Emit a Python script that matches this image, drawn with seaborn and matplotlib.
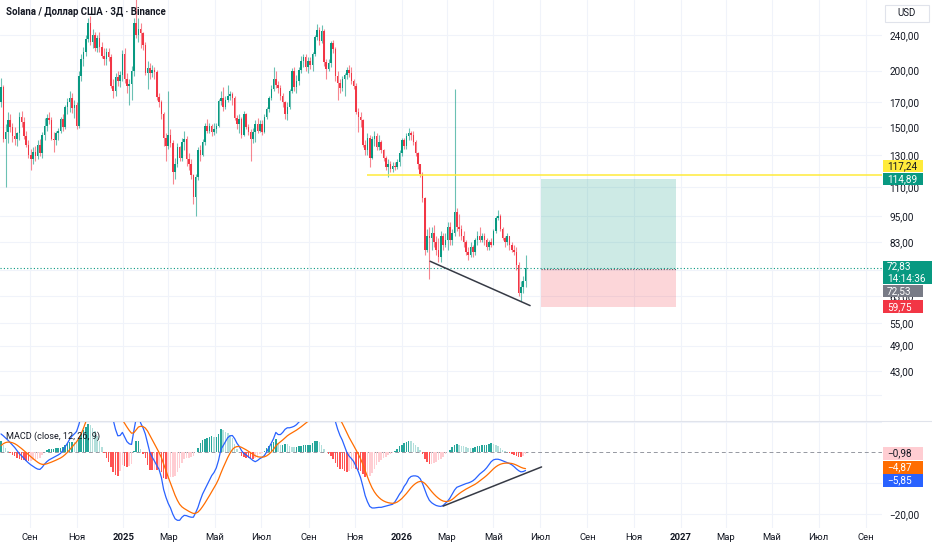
import numpy as np
import pandas as pd
import matplotlib
matplotlib.use("Agg")
import matplotlib.pyplot as plt
import seaborn as sns
from matplotlib.patches import Rectangle
from matplotlib.lines import Line2D
from matplotlib.ticker import NullLocator

# ---------------- data (3-day candles, SOL/USD) ----------------
START_DATE = "2024-07-25"
CANDLE_DAYS = 3
FIRST_OPEN = 170.0
CLOSE = [
    184, 141, 146, 155, 150, 143, 141, 145, 158, 154,
    143, 137, 130, 127, 132, 129, 137, 131, 144, 151,
    157, 155, 141, 140, 145, 147, 156, 150, 166, 170,
    174, 165, 168, 151, 195, 212, 220, 235, 255, 232,
    240, 225, 236, 226, 216, 212, 220, 214, 185, 180,
    194, 190, 196, 218, 192, 185, 187, 200, 255, 240,
    247, 242, 228, 198, 203, 198, 201, 199, 175, 170,
    160, 142, 136, 144, 138, 119, 124, 135, 128, 139,
    141, 127, 124, 117, 105, 116, 133, 130, 139, 151,
    147, 151, 146, 148, 151, 171, 174, 166, 172, 176,
    177, 174, 157, 152, 156, 144, 160, 150, 146, 141,
    146, 152, 147, 152, 146, 158, 164, 174, 182, 192,
    186, 183, 176, 170, 160, 166, 180, 200, 184, 190,
    201, 210, 214, 204, 210, 206, 218, 238, 246, 233,
    245, 209, 202, 208, 230, 223, 195, 188, 183, 192,
    196, 201, 198, 190, 185, 162, 158, 155, 137, 133,
    142, 128, 141, 143, 135, 139, 133, 128, 122, 124,
    121, 123, 122, 125, 131, 140, 136, 143, 145, 144,
    139, 131, 124, 118, 104, 80, 86, 85, 87, 83,
    80, 77, 86, 82, 84, 90, 84, 87, 97, 90,
    89, 86, 83, 79, 78, 81, 79, 84, 86, 84,
    86, 84, 81, 83, 82, 88, 94, 95, 89, 85,
    83, 86, 82, 80, 79, 74, 64, 66, 68, 72.83,
]
HIGH = [
    193, 186, 152, 162, 160, 153, 150, 146, 162, 163,
    158, 147, 140, 134, 135, 136, 140, 141, 146, 157,
    160, 162, 158, 146, 147, 149, 158, 160, 168, 174,
    180, 178, 172, 170, 200, 218, 226, 240, 262, 264,
    248, 244, 240, 244, 232, 225, 224, 225, 218, 192,
    198, 200, 200, 222, 224, 198, 192, 205, 262, 295,
    262, 255, 244, 232, 210, 208, 206, 204, 201, 178,
    172, 162, 145, 180, 148, 140, 128, 138, 136, 142,
    147, 143, 131, 127, 118, 118, 135, 137, 141, 153,
    156, 153, 152, 153, 153, 173, 180, 184, 176, 186,
    180, 179, 176, 159, 160, 158, 163, 161, 152, 148,
    149, 155, 157, 155, 155, 160, 166, 176, 186, 204,
    200, 190, 186, 178, 171, 170, 182, 203, 204, 196,
    204, 216, 218, 218, 214, 214, 220, 240, 254, 250,
    253, 247, 212, 212, 233, 234, 226, 200, 192, 195,
    198, 204, 206, 204, 192, 188, 165, 162, 156, 140,
    145, 144, 143, 147, 145, 144, 140, 134, 129, 127,
    126, 125, 125, 127, 133, 142, 142, 145, 149, 147,
    147, 140, 132, 124, 119, 105, 89, 90, 90, 91,
    86, 85, 88, 87, 87, 92, 92, 89, 182, 99,
    96, 91, 88, 84, 81, 83, 82, 85, 88, 90,
    87, 87, 85, 84, 85, 89, 95, 98, 96, 90,
    86, 87, 86, 83, 82, 81, 75, 68, 70, 78,
]
LOW = [
    166, 139, 110, 138, 146, 139, 137, 136, 140, 150,
    141, 135, 128, 120, 124, 126, 127, 129, 128, 140,
    147, 152, 140, 132, 137, 140, 145, 147, 148, 160,
    162, 161, 157, 148, 149, 190, 205, 215, 232, 228,
    225, 221, 220, 220, 213, 206, 206, 210, 183, 174,
    176, 185, 184, 190, 188, 178, 168, 172, 195, 236,
    232, 225, 222, 196, 182, 192, 194, 192, 172, 166,
    156, 136, 126, 134, 135, 112, 115, 122, 126, 126,
    133, 123, 120, 115, 101, 95, 114, 126, 129, 137,
    145, 145, 143, 144, 145, 150, 168, 163, 164, 170,
    172, 168, 155, 148, 145, 142, 143, 148, 144, 126,
    138, 139, 145, 146, 144, 145, 156, 162, 172, 180,
    183, 178, 172, 166, 156, 155, 164, 178, 180, 178,
    186, 198, 204, 200, 198, 202, 200, 215, 234, 228,
    230, 205, 192, 200, 204, 219, 190, 172, 178, 180,
    176, 192, 194, 187, 182, 160, 146, 150, 135, 130,
    130, 122, 127, 136, 133, 133, 131, 126, 120, 116,
    119, 119, 120, 121, 123, 129, 134, 134, 140, 140,
    137, 129, 121, 116, 102, 78, 79, 69, 80, 81,
    78, 75, 75, 80, 81, 80, 82, 82, 86, 88,
    86, 84, 81, 78, 76, 77, 77, 78, 82, 83,
    83, 82, 80, 80, 81, 82, 87, 93, 88, 84,
    81, 82, 80, 79, 78, 72, 63, 61.5, 64, 66,
]
MACD = [
    6.0, 5.4, 4.7, 4.0, 3.2, 2.4, 1.6, 0.6, -0.4, -1.1,
    -1.9, -2.7, -3.4, -4.0, -4.5, -5.0, -5.4, -5.5, -4.8, -3.8,
    -3.0, -2.4, -2.0, -1.6, -1.2, -0.8, -0.3, 0.6, 1.8, 3.0,
    4.3, 5.3, 6.0, 6.8, 9.0, 12.0, 15.0, 18.0, 21.5, 23.5,
    24.5, 25.0, 24.8, 24.0, 22.5, 20.5, 18.5, 16.5, 13.5, 10.5,
    7.5, 5.4, 5.5, 6.5, 5.0, 3.5, 2.8, 2.6, 7.0, 11.0,
    12.0, 9.5, 8.0, 6.0, 3.0, 0.0, -1.5, -2.8, -4.2, -5.5,
    -8.0, -12.0, -14.5, -16.5, -18.0, -20.0, -21.5, -22.0, -22.0, -21.0,
    -20.4, -20.5, -20.8, -21.0, -21.0, -19.5, -17.8, -15.5, -13.5, -12.0,
    -10.5, -9.0, -7.5, -6.5, -5.0, -2.5, 1.0, 2.2, 3.5, 4.8,
    5.4, 5.5, 4.5, 3.0, 2.0, 0.6, -0.3, -0.8, -1.4, -2.0,
    -2.6, -3.0, -2.6, -2.0, -1.6, -1.0, 0.2, 1.6, 3.0, 4.5,
    6.5, 5.8, 5.8, 6.5, 7.5, 8.0, 8.0, 8.2, 8.5, 9.0,
    9.8, 10.5, 11.2, 11.8, 12.5, 13.2, 14.5, 16.0, 17.0, 17.5,
    17.0, 16.0, 15.0, 14.5, 13.5, 12.0, 10.0, 7.5, 5.5, 4.0,
    2.0, 0.0, -1.2, -2.0, -3.0, -4.5, -6.2, -8.2, -11.0, -14.0,
    -16.0, -17.5, -18.0, -18.0, -17.9, -17.8, -17.8, -17.6, -17.4, -17.2,
    -17.0, -16.8, -16.0, -14.8, -13.5, -12.5, -11.0, -10.0, -8.5, -7.8,
    -7.6, -7.6, -7.8, -8.5, -10.0, -12.0, -14.0, -15.5, -16.3, -16.8,
    -17.2, -17.4, -17.5, -17.2, -16.5, -15.8, -14.8, -13.5, -12.2, -11.3,
    -11.0, -10.7, -10.4, -10.1, -9.9, -9.6, -9.2, -8.6, -7.8, -7.0,
    -6.4, -5.8, -5.0, -4.0, -3.0, -2.4, -2.2, -2.2, -2.4, -2.7,
    -3.0, -3.3, -3.6, -4.0, -4.6, -5.3, -5.9, -6.3, -6.2, -5.85,
]
SIGNAL_START = 2.2
SIGNAL_LEN = 9

PRICE_TICKS = [240, 200, 170, 150, 130, 110, 95, 83, 72, 63, 55, 49, 43, 38]
PRICE_TICK_LABELS = ["240,00", "200,00", "170,00", "150,00", "130,00", "110,00",
                     "95,00", "83,00", "", "63,00", "55,00", "49,00", "43,00", ""]
MACD_TICKS = [0, -10, -20]
MACD_TICK_LABELS = ["", "", "\u221220,00"]
MONTH_TICKS = ["2024-09-01", "2024-11-01", "2025-01-01", "2025-03-01", "2025-05-01",
               "2025-07-01", "2025-09-01", "2025-11-01", "2026-01-01", "2026-03-01",
               "2026-05-01", "2026-07-01", "2026-09-01", "2026-11-01", "2027-01-01",
               "2027-03-01", "2027-05-01", "2027-07-01", "2027-09-01"]
MONTH_LABELS = ["Сен", "Ноя", "2025", "Мар", "Май", "Июл", "Сен", "Ноя", "2026", "Мар",
                "Май", "Июл", "Сен", "Ноя", "2027", "Мар", "Май", "Июл", "Сен"]

TITLE = "Solana / Доллар США · 3Д · Binance"
MACD_TITLE = "MACD (close, 12, 26, 9)"
RESISTANCE = 117.24
RESISTANCE_START = "2025-11-16"
LAST_PRICE = 72.83
COUNTDOWN = "14:14:36"
POS_ENTRY, POS_TARGET, POS_STOP = 72.53, 114.89, 59.75
POS_DATES = ["2026-07-02", "2026-12-26"]
TREND_DATES = ["2026-02-07", "2026-06-18"]
TREND_PRICES = [75.4, 60.1]
MACD_TREND_DATES = ["2026-02-24", "2026-07-03"]
MACD_TREND_VALUES = [-17.4, -4.7]
HIST_LAST, SIGNAL_LAST, MACD_LAST = -0.98, -4.87, -5.85

# ---------------- style ----------------
UP, DOWN = "#089981", "#F23645"
GRID = "#F0F3FA"
TXT = "#131722"
W, H = 932, 550
REF = pd.Timestamp("2024-09-01")

sns.set_theme(style="white")
plt.rcParams["font.family"] = ["Roboto", "DejaVu Sans"]
plt.rcParams["axes.unicode_minus"] = True


def days(s):
    return (pd.Timestamp(s) - REF) / pd.Timedelta(days=1)


def rect(x0, y0, x1, y1):
    return [x0 / W, 1 - y1 / H, (x1 - x0) / W, (y1 - y0) / H]


fig = plt.figure(figsize=(W / 100, H / 100), dpi=100)
fig.patch.set_facecolor("white")
ax = fig.add_axes(rect(0, 0, 882, 421))
ax2 = fig.add_axes(rect(0, 421, 882, 528), sharex=ax)

n = len(CLOSE)
dates = pd.date_range(START_DATE, periods=n, freq=f"{CANDLE_DAYS}D")
xd = ((dates - REF) / pd.Timedelta(days=1)).to_numpy(dtype=float)
cls = np.array(CLOSE, dtype=float)
opn = np.array([FIRST_OPEN] + CLOSE[:-1], dtype=float)
hi = np.array(HIGH, dtype=float)
lo = np.array(LOW, dtype=float)
col = np.where(cls >= opn, UP, DOWN)

# ---------------- price pane ----------------
ax.set_yscale("log")
ax.set_xlim(-39.3, 1115.9)
ax.set_ylim(33.3, 287.0)
ax.vlines(xd, lo, hi, colors=col, lw=0.8, alpha=0.6, zorder=3)
ax.bar(xd, np.abs(cls - opn), bottom=np.minimum(opn, cls), width=2.0,
       color=col, linewidth=0, zorder=4)

ax.hlines(RESISTANCE, days(RESISTANCE_START), 1115.9, color="#FFEB3B", lw=1.1, zorder=5)
ax.axhline(LAST_PRICE, color=UP, ls=(0, (1, 2)), lw=0.8, zorder=5)
p0, p1 = days(POS_DATES[0]), days(POS_DATES[1])
ax.add_patch(Rectangle((p0, POS_ENTRY), p1 - p0, POS_TARGET - POS_ENTRY,
                       fc=UP, alpha=0.2, lw=0, zorder=2))
ax.add_patch(Rectangle((p0, POS_STOP), p1 - p0, POS_ENTRY - POS_STOP,
                       fc=DOWN, alpha=0.2, lw=0, zorder=2))
ax.hlines(POS_ENTRY, p0, p1, color="#5D606B", ls=(0, (1, 1.5)), lw=0.8, zorder=5)
ax.plot([days(d) for d in TREND_DATES], TREND_PRICES, color="#363A45", lw=1.1, zorder=6)

ax.yaxis.tick_right()
ax.set_yticks(PRICE_TICKS)
ax.set_yticklabels(PRICE_TICK_LABELS)
ax.yaxis.set_minor_locator(NullLocator())
ax.tick_params(axis="y", length=0, pad=5.5, labelsize=7.2, labelcolor=TXT)
ax.tick_params(axis="x", length=0, labelbottom=False)
ax.grid(True, color=GRID, lw=0.8)
ax.set_axisbelow(True)
for s in ax.spines.values():
    s.set_visible(False)

# ---------------- MACD pane ----------------
macd = np.array(MACD, dtype=float)
alpha = 2.0 / (SIGNAL_LEN + 1)
signal = np.empty_like(macd)
signal[0] = SIGNAL_START
for i in range(1, n):
    signal[i] = signal[i - 1] + alpha * (macd[i] - signal[i - 1])
hist = macd - signal
prev = np.r_[hist[0], hist[:-1]]
hcol = np.where(hist >= 0, np.where(hist >= prev, "#26A69A", "#B2DFDB"),
                np.where(hist < prev, "#FF5252", "#FFCDD2"))

ax2.set_ylim(-24.5, 10.2)
ax2.bar(xd, hist, width=2.0, color=hcol, linewidth=0, zorder=3)
ax2.axhline(0, color="#9598A1", ls=(0, (4, 3)), lw=0.7, zorder=2)
sns.lineplot(x=xd, y=macd, ax=ax2, color="#2962FF", linewidth=0.9,
             estimator=None, sort=False, zorder=4)
sns.lineplot(x=xd, y=signal, ax=ax2, color="#FF6D00", linewidth=0.9,
             estimator=None, sort=False, zorder=4)
ax2.plot([days(d) for d in MACD_TREND_DATES], MACD_TREND_VALUES,
         color="#363A45", lw=1.1, zorder=5)
ax2.set_xlabel("")
ax2.set_ylabel("")
ax2.yaxis.tick_right()
ax2.set_yticks(MACD_TICKS)
ax2.set_yticklabels(MACD_TICK_LABELS)
ax2.tick_params(axis="y", length=0, pad=5.5, labelsize=7.2, labelcolor=TXT)
ax2.set_xticks([days(d) for d in MONTH_TICKS])
ax2.set_xticklabels(MONTH_LABELS)
ax2.tick_params(axis="x", length=0, pad=3.5, labelsize=6.8, labelcolor=TXT)
for lab in ax2.get_xticklabels():
    if lab.get_text().isdigit():
        lab.set_fontweight("bold")
ax2.grid(True, axis="x", color=GRID, lw=0.8)
for v in (-10, -20, 10):
    ax2.axhline(v, color=GRID, lw=0.8, zorder=0)
ax2.set_axisbelow(True)
for s in ax2.spines.values():
    s.set_visible(False)

# separator between panes
fig.add_artist(Line2D([0, 1], [1 - 421 / H] * 2, color="#E0E3EB", lw=0.8))

# ---------------- texts ----------------
fig.text(6 / W, 1 - 12 / H, TITLE, fontsize=6.9, fontweight="semibold",
         color=TXT, va="center", ha="left")
fig.text(6 / W, 1 - 436 / H, MACD_TITLE, fontsize=6.6, color=TXT,
         va="center", ha="left", zorder=10)
fig.add_artist(Rectangle((885 / W, 1 - 22 / H), 44 / W, 17 / H, transform=fig.transFigure,
                         fc="white", ec="#E0E3EB", lw=0.8))
fig.text(907 / W, 1 - 13.5 / H, "USD", fontsize=7, color=TXT, va="center", ha="center")


def top_px(axis, val):
    return H - axis.transData.transform((0, val))[1]


def tag(center_px, text, bg, fg, width=40, height=12.5):
    fig.add_artist(Rectangle((883 / W, 1 - (center_px + height / 2) / H), width / W, height / H,
                             transform=fig.transFigure, fc=bg, ec="none", zorder=20))
    fig.text(887 / W, 1 - center_px / H, text, ha="left", va="center", color=fg,
             fontsize=7.2, zorder=21, linespacing=1.3)


def fmt(v):
    s = f"{abs(v):.2f}".replace(".", ",")
    return ("\u2212" + s) if v < 0 else s


tag(top_px(ax, RESISTANCE) - 9, fmt(RESISTANCE), "#FFEB3B", TXT)
tag(top_px(ax, POS_TARGET), fmt(POS_TARGET), UP, "white")
tag(top_px(ax, LAST_PRICE) + 4.5, fmt(LAST_PRICE) + "\n" + COUNTDOWN, UP, "white",
    width=49, height=23)
tag(top_px(ax, POS_ENTRY) + 22, fmt(POS_ENTRY), "#787B86", "white")
tag(top_px(ax, POS_STOP), fmt(POS_STOP), DOWN, "white")
tag(top_px(ax2, HIST_LAST) - 2, fmt(HIST_LAST), "#FFCDD2", TXT)
tag(top_px(ax2, SIGNAL_LAST), fmt(SIGNAL_LAST), "#FF6D00", "white")
tag(top_px(ax2, MACD_LAST) + 10, fmt(MACD_LAST), "#2962FF", "white")

fig.savefig("out.png", dpi=100, facecolor="white")
